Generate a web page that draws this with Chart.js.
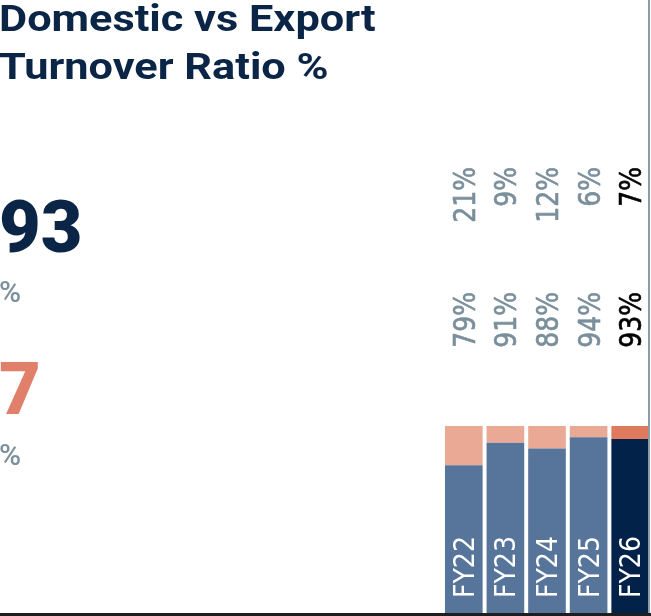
<!DOCTYPE html>
<html>
<head>
<meta charset="utf-8">
<script src="https://cdn.jsdelivr.net/npm/chart.js@4.4.1/dist/chart.umd.min.js"></script>
<style>
    html, body { margin: 0; padding: 0; background: #fff; overflow: hidden; }
    #wrap { position: relative; width: 651px; height: 616px; }
    #wrap canvas { position: absolute; left: 0; top: 0; }
    .txt { position: absolute; left: -1px; font-family: Roboto, sans-serif; white-space: nowrap; }
    #title { top: -5px; font-size: 37px; line-height: 48px; font-weight: 700; color: #0b2547;
             transform: scaleX(1.17); transform-origin: 0 0; }
    .big { font-size: 72px; line-height: 72px; font-weight: 900; }
    .pct { font-size: 30px; line-height: 30px; font-weight: 500; color: #7d919d; }
    #rline { position: absolute; left: 648px; top: 0; width: 2px; height: 616px; background: #8b9cab; }
    #bline { position: absolute; left: 0; top: 613px; width: 651px; height: 3px; background: #1e1e1e; }
</style>
</head>
<body>
<div id="wrap">
    <canvas id="ratioChart" width="651" height="616"></canvas>
    <div id="title" class="txt">Domestic vs Export<br>Turnover Ratio %</div>
    <div class="txt big" style="top:192px; color:#0b2547;">93</div>
    <div class="txt pct" style="top:277px;">%</div>
    <div class="txt big" style="top:354px; color:#e0806a;">7</div>
    <div class="txt pct" style="top:440px;">%</div>
    <div id="rline"></div>
    <div id="bline"></div>
</div>
<script>
// data
const years = ['FY22', 'FY23', 'FY24', 'FY25', 'FY26'];
const domestic = [79, 91, 88, 94, 93];
const exportShare = [21, 9, 12, 6, 7];

const domColors = ['#57759a', '#57759a', '#57759a', '#57759a', '#03224a'];
const expColors = ['#e9a994', '#e9a994', '#e9a994', '#e9a994', '#df7a5f'];
const labelColors = ['#7a8f9b', '#7a8f9b', '#7a8f9b', '#7a8f9b', '#000000'];

// rotated labels: values above the bars, year names inside them
const barLabels = {
    id: 'barLabels',
    afterDatasetsDraw(chart) {
        const c = chart.ctx;
        const bars = chart.getDatasetMeta(0).data;
        const font = '30px "DejaVu Sans Condensed", "DejaVu Sans", sans-serif';
        bars.forEach((bar, i) => {
            const x = bar.x + 11;
            c.save();
            c.font = font;
            c.fillStyle = labelColors[i];
            c.strokeStyle = labelColors[i];
            c.lineWidth = 0.6;
            c.textAlign = 'right';
            c.textBaseline = 'alphabetic';

            c.save();
            c.translate(x, 167);
            c.rotate(-Math.PI / 2);
            c.scale(0.93, 1);
            c.fillText(exportShare[i] + '%', 0, 0);
            c.strokeText(exportShare[i] + '%', 0, 0);
            c.restore();

            c.save();
            c.translate(x, 292);
            c.rotate(-Math.PI / 2);
            c.scale(0.93, 1);
            c.fillText(domestic[i] + '%', 0, 0);
            c.strokeText(domestic[i] + '%', 0, 0);
            c.restore();

            c.save();
            c.translate(x - 1, 598);
            c.rotate(-Math.PI / 2);
            c.textAlign = 'left';
            c.fillStyle = '#ffffff';
            c.font = '28px "DejaVu Sans Condensed", "DejaVu Sans", sans-serif';
            c.fillText(years[i], 0, 0);
            c.restore();

            c.restore();
        });
    }
};

const ctx = document.getElementById('ratioChart').getContext('2d');
new Chart(ctx, {
    type: 'bar',
    data: {
        labels: years,
        datasets: [{
            label: 'Domestic',
            data: domestic,
            backgroundColor: domColors,
            borderWidth: 0
        }, {
            label: 'Export',
            data: exportShare,
            backgroundColor: expColors,
            borderWidth: 0
        }]
    },
    options: {
        responsive: false,
        animation: false,
        layout: {
            padding: { left: 443, right: 0, top: 426, bottom: 3 }
        },
        datasets: {
            bar: {
                barPercentage: 0.905,
                categoryPercentage: 1
            }
        },
        scales: {
            x: { stacked: true, display: false },
            y: { stacked: true, display: false, min: 0, max: 100 }
        },
        plugins: {
            legend: { display: false },
            tooltip: { enabled: false }
        }
    },
    plugins: [barLabels]
});
</script>
</body>
</html>
